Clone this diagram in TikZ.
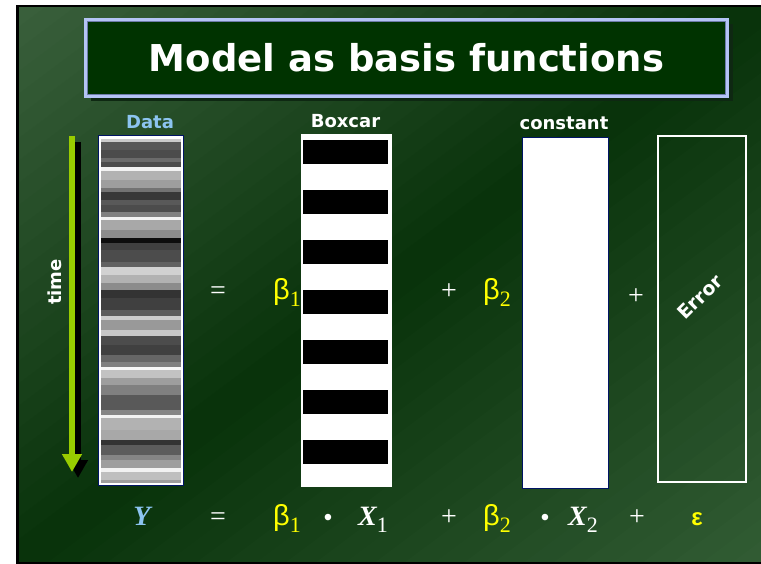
\documentclass[tikz,border=0pt]{standalone}
\usepackage{fontspec}
\setmainfont{Liberation Serif}
\setsansfont{DejaVu Sans}
\newfontfamily\greekfont{Liberation Sans}
\usetikzlibrary{arrows.meta,positioning,shadows}

\definecolor{bgtop}{RGB}{58,96,60}
\definecolor{bgdark}{RGB}{8,50,10}
\definecolor{bgbottom}{RGB}{50,92,52}
\definecolor{titlefill}{RGB}{0,51,0}
\definecolor{titleline}{RGB}{180,196,245}
\definecolor{titleinner}{RGB}{110,125,170}
\definecolor{titleshadow}{RGB}{14,40,18}
\definecolor{timegreen}{RGB}{153,204,0}
\definecolor{datablue}{RGB}{140,196,240}
\definecolor{navyedge}{RGB}{0,20,100}
\definecolor{coefyellow}{RGB}{255,255,0}

\newcommand\lowidx[1]{\raisebox{-7pt}{\rmfamily\mdseries\upshape\fontsize{22}{22}\selectfont#1}}

\begin{document}
\begin{tikzpicture}[x=1pt,y=-1pt,
  titlebox/.style={draw=titleline, line width=3pt, fill=titlefill, text=white,
    minimum width=642pt, minimum height=77pt,
    font=\sffamily\bfseries\fontsize{37}{37}\selectfont,
    drop shadow={shadow xshift=5pt, shadow yshift=-5pt, fill=titleshadow, opacity=1}},
  collabel/.style={font=\sffamily\bfseries\fontsize{18}{18}\selectfont, inner sep=0pt},
  column/.style={minimum width=#1, minimum height=349pt, inner sep=0pt},
  mathsym/.style={font=\fontsize{28}{28}\selectfont, text=white, anchor=base, inner sep=0pt},
  mathvar/.style={mathsym, font=\bfseries\itshape\fontsize{28}{28}\selectfont},
  coef/.style={mathsym, text=coefyellow, font=\greekfont\fontsize{29}{29}\selectfont}
]
  \useasboundingbox (0,0) rectangle (761,564);
  \begin{scope}
    \clip (17,6) rectangle (761,563);
    \begin{scope}[shift={(17,6)}, x=744pt, y=-557pt]
      \foreach \i in {0,...,49}{
        \pgfmathsetmacro\ta{2*\i/50}
        \pgfmathsetmacro\tb{2*(\i+1)/50+0.01}
        \pgfmathtruncatemacro\p{\i<25 ? 100*(\i+0.5)/25 : 100*(49.5-\i)/25}
        \ifnum\i<25 \colorlet{bandcol}{bgdark!\p!bgtop}\else\colorlet{bandcol}{bgdark!\p!bgbottom}\fi
        \fill[bandcol] (\ta+1,-1) -- (\tb+1,-1) -- (\tb-3,3) -- (\ta-3,3) -- cycle;
      }
    \end{scope}
  \end{scope}
  \draw[black, line width=2.5pt] (761,6) -- (17.5,6) -- (17.5,563) -- (761,563);

  \node[titlebox] (title) at (406.5,58) {Model as basis functions};
  \draw[titleinner, line width=1pt] ([shift={(3.5,3.5)}]title.north west)
    rectangle ([shift={(-3.5,-3.5)}]title.south east);

  \coordinate (ttop) at (72,136);
  \coordinate (tbot) at (72,472);
  \draw[black, line width=6pt, -{Triangle[width=19pt,length=18pt]}]
    ([shift={(6,6)}]ttop) -- ([shift={(6,6)}]tbot);
  \draw[timegreen, line width=6pt, -{Triangle[width=19pt,length=18pt]}] (ttop) -- (tbot);
  \node[collabel, text=white, rotate=90] (time) at (55,282) {time};

  \node[column=85pt, draw=navyedge, line width=1pt, fill=white] (data) at (141,310.5) {};
  \foreach \ya/\yb/\g in {139/142/80, 142/150/35, 150/158/30, 158/162/42, 162/167/30,
      167/171/95, 171/180/70, 180/188/62, 188/192/45, 192/200/22, 200/205/35, 205/212/30,
      212/217/50, 217/220/95, 220/230/66, 230/238/55, 238/243/5, 243/250/25, 250/262/30,
      262/267/38, 267/275/82, 275/283/70, 283/290/55, 290/298/20, 298/310/25, 310/316/36,
      316/320/80, 320/330/60, 330/336/78, 336/345/30, 345/355/25, 355/362/40, 362/367/50,
      367/370/97, 370/378/76, 378/385/62, 385/395/50, 395/410/35, 410/415/52, 415/418/95,
      418/430/70, 430/440/66, 440/445/20, 445/455/36, 455/460/52, 460/468/62, 468/472/95,
      472/480/75, 480/483/62}
    \fill[white!\g!black] (101,\ya) rectangle (181,\yb);
  \node[collabel, text=datablue, above=7pt of data, xshift=9pt] (datalbl) {Data};

  \node[column=91pt, minimum height=353pt, fill=white] (boxcar) at (346.5,310.5) {};
  \foreach \k in {0,...,6}
    \fill[black] (303,140+50*\k) rectangle (388,164+50*\k);
  \node[collabel, text=white, above=6pt of boxcar, xshift=-1pt] (boxlbl) {Boxcar};

  \node[column=86pt, minimum height=351pt, draw=navyedge, line width=0.8pt, fill=white]
    (const) at (565,312.5) {};
  \node[collabel, text=white, above=7pt of const, xshift=-1pt] (constlbl) {constant};

  \node[column=88pt, minimum height=346pt, draw=white, line width=2pt] (err) at (702,309) {};
  \node[collabel, text=white, rotate=45, font=\sffamily\bfseries\fontsize{19}{19}\selectfont]
    (errlbl) at (700,297) {Error};

  \node[mathsym] (eqtop) at (218,300) {=};
  \node[coef] (b1top) at (287,300) {β\lowidx{1}};
  \node[mathsym] (plusa) at (449,300) {+};
  \node[coef] (b2top) at (497,300) {β\lowidx{2}};
  \node[mathsym] (plusb) at (636,305) {+};

  \node[mathvar, text=datablue] (y) at (142,525) {Y};
  \node[mathsym] (eqbot) at (218,525) {=};
  \node[coef] (b1bot) at (287,525) {β\lowidx{1}};
  \node[mathsym, font=\greekfont\fontsize{24}{24}\selectfont] (dota) at (328,525) {•};
  \node[mathvar] (x1) at (373,525) {X\lowidx{1}};
  \node[mathsym] (plusc) at (449,525) {+};
  \node[coef] (b2bot) at (497,525) {β\lowidx{2}};
  \node[mathsym, font=\greekfont\fontsize{24}{24}\selectfont] (dotb) at (545,525) {•};
  \node[mathvar] (x2) at (583,525) {X\lowidx{2}};
  \node[mathsym] (plusd) at (637,525) {+};
  \node[coef, font=\greekfont\bfseries\fontsize{24}{24}\selectfont] (eps) at (697,525) {ε};
\end{tikzpicture}
\end{document}
